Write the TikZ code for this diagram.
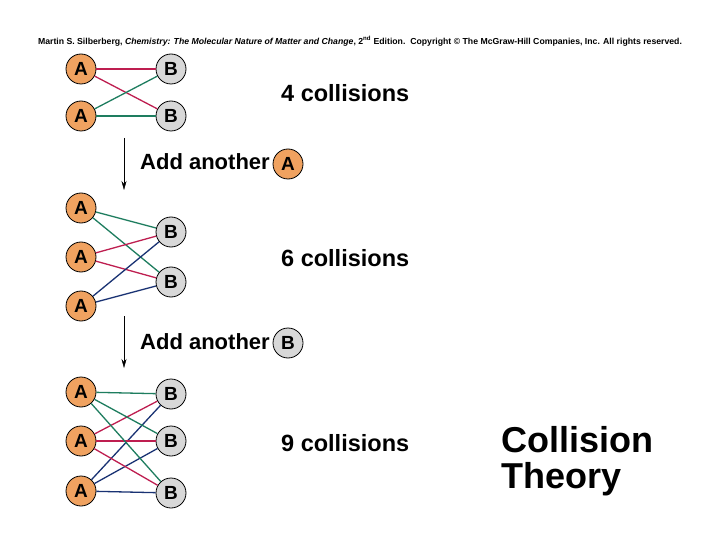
\documentclass[tikz,border=0pt]{standalone}
\usepackage{fontspec}
\setmainfont{Liberation Sans}
\usetikzlibrary{arrows.meta}

\definecolor{atomA}{RGB}{240,162,96}
\definecolor{atomB}{RGB}{216,216,216}
\definecolor{hitred}{RGB}{190,30,80}
\definecolor{hitgreen}{RGB}{30,125,95}
\definecolor{hitblue}{RGB}{25,50,115}

\begin{document}
\begin{tikzpicture}[x=1pt, y=-1pt, >={Stealth[length=9pt, width=5pt]},
    atoma/.style={circle, draw=black, line width=0.8pt, fill=atomA, minimum size=30pt, inner sep=0pt, font=\fontsize{19}{19}\selectfont\bfseries},
    atomb/.style={atoma, fill=atomB},
    count/.style={anchor=west, inner sep=0pt, font=\fontsize{23.5}{23.5}\selectfont\bfseries},
    hit/.style={line width=1.3pt}]
    \fill[white] (0,0) rectangle (720,540);

    \node (head) at (360,41) {\fontsize{8.7}{9}\selectfont\bfseries Martin S. Silberberg, \textit{Chemistry: The Molecular Nature of Matter and Change}, 2\textsuperscript{nd} Edition.\ \ Copyright \textcopyright\ The McGraw-Hill Companies, Inc. All rights reserved.};

    % first set: 2 A, 2 B
    \node[atoma] (a11) at (81,69) {A};
    \node[atoma] (a12) at (81,116) {A};
    \node[atomb] (b11) at (171,69) {B};
    \node[atomb] (b12) at (171,116) {B};
    \draw[hit, hitred] (a11) -- (b11);
    \draw[hit, hitred] (a11) -- (b12);
    \draw[hit, hitgreen] (a12) -- (b11);
    \draw[hit, hitgreen] (a12) -- (b12);
    \node[count] (n1) at (281,93) {4 collisions};

    \coordinate (s1) at (124,138);
    \coordinate (e1) at (124,190);
    \draw[->, thin] (s1) -- (e1);
    \node[count, font=\fontsize{22}{22}\selectfont\bfseries] (add1) at (140,162) {Add another};
    \node[atoma] (xa) at (288,164) {A};

    % second set: 3 A, 2 B
    \node[atoma] (a21) at (81,208) {A};
    \node[atoma] (a22) at (81,257) {A};
    \node[atoma] (a23) at (81,306) {A};
    \node[atomb] (b21) at (171,232) {B};
    \node[atomb] (b22) at (171,282) {B};
    \draw[hit, hitgreen] (a21) -- (b21);
    \draw[hit, hitgreen] (a21) -- (b22);
    \draw[hit, hitred] (a22) -- (b21);
    \draw[hit, hitred] (a22) -- (b22);
    \draw[hit, hitblue] (a23) -- (b21);
    \draw[hit, hitblue] (a23) -- (b22);
    \node[count] (n2) at (281,258) {6 collisions};

    \coordinate (s2) at (124,316);
    \coordinate (e2) at (124,368);
    \draw[->, thin] (s2) -- (e2);
    \node[count, font=\fontsize{22}{22}\selectfont\bfseries] (add2) at (140,342) {Add another};
    \node[atomb] (xb) at (288,343) {B};

    % third set: 3 A, 3 B
    \node[atoma] (a31) at (81,392) {A};
    \node[atoma] (a32) at (81,441) {A};
    \node[atoma] (a33) at (81,491) {A};
    \node[atomb] (b31) at (171,394) {B};
    \node[atomb] (b32) at (171,441) {B};
    \node[atomb] (b33) at (171,493) {B};
    \foreach \b in {b31,b32,b33} {
        \draw[hit, hitgreen] (a31) -- (\b);
        \draw[hit, hitred] (a32) -- (\b);
        \draw[hit, hitblue] (a33) -- (\b);
    }
    \node[count] (n3) at (281,443) {9 collisions};

    \node[anchor=west, align=left, inner sep=0pt, font=\fontsize{36}{36}\selectfont\bfseries] (title) at (501,461) {Collision\\Theory};
\end{tikzpicture}
\end{document}
